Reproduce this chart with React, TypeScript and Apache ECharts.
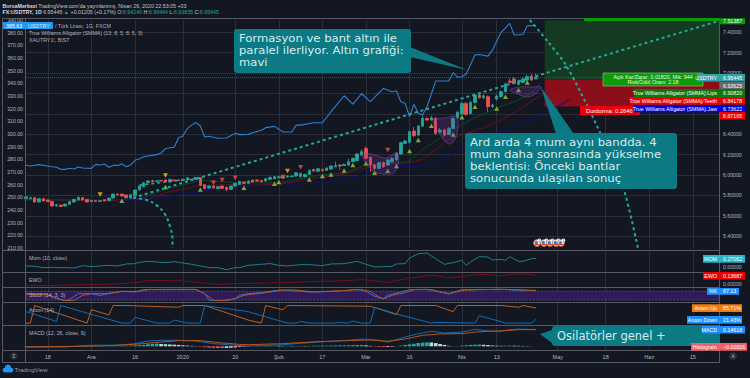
import React, { useEffect, useRef } from "react";
import * as echarts from "echarts";

const BAR_COUNT = 160;
const tickIndex = [5, 15, 25, 36, 48, 58, 68, 78, 88, 100, 108, 122, 133, 143, 153];
const tickLabels = ["18", "Ara", "16", "2020", "20", "Şub", "17", "Mar", "16", "Nis", "13", "May", "18", "Haz", "15"];
const priceTicks = [5.4, 5.6, 5.8, 6.0, 6.2, 6.4, 6.6, 6.8, 7.0, 7.2, 7.4];
const priceLabels = [5.4, 5.6, 5.8, 6.0, 6.2, 6.4, 7.0, 7.2, 7.4];

// open, close, low, high
const candles = [
  [5.767,5.787,5.76,5.79],[5.768,5.777,5.76,5.785],[5.777,5.735,5.73,5.785],[5.735,5.768,5.73,5.775],[5.768,5.745,5.74,5.772],
  [5.755,5.741,5.735,5.76],[5.741,5.696,5.69,5.745],[5.696,5.709,5.69,5.715],[5.705,5.692,5.685,5.71],[5.696,5.715,5.69,5.72],
  [5.712,5.741,5.705,5.745],[5.735,5.761,5.73,5.768],[5.755,5.781,5.75,5.787],[5.777,5.755,5.75,5.785],[5.761,5.735,5.73,5.765],
  [5.738,5.751,5.733,5.755],[5.748,5.741,5.735,5.752],[5.741,5.748,5.737,5.752],[5.758,5.745,5.74,5.762],[5.748,5.774,5.745,5.778],
  [5.774,5.813,5.77,5.818],[5.813,5.804,5.8,5.818],[5.813,5.794,5.79,5.817],[5.804,5.777,5.77,5.808],[5.774,5.807,5.77,5.812],
  [5.8,5.853,5.795,5.858],[5.853,5.892,5.848,5.897],[5.885,5.924,5.88,5.93],[5.924,5.941,5.92,5.95],[5.944,5.934,5.93,5.955],
  [5.937,5.944,5.93,5.95],[5.947,5.941,5.936,5.952],[5.951,5.934,5.93,5.956],[5.931,5.957,5.926,5.962],[5.951,5.944,5.94,5.955],
  [5.951,5.947,5.942,5.955],[5.947,5.957,5.943,5.962],[5.951,5.973,5.946,5.978],[5.951,5.957,5.946,5.962],[5.957,5.973,5.952,5.982],
  [5.973,5.898,5.892,5.98],[5.905,5.866,5.86,5.91],[5.872,5.892,5.866,5.897],[5.892,5.872,5.866,5.9],[5.866,5.885,5.86,5.89],
  [5.892,5.869,5.864,5.898],[5.879,5.859,5.84,5.885],[5.859,5.892,5.855,5.897],[5.892,5.918,5.887,5.924],[5.908,5.937,5.903,5.943],
  [5.931,5.918,5.912,5.937],[5.918,5.941,5.913,5.947],[5.951,5.931,5.926,5.956],[5.951,5.941,5.936,5.956],[5.947,5.934,5.928,5.952],
  [5.941,5.964,5.936,5.97],[5.957,5.977,5.952,5.983],[5.964,5.983,5.958,5.99],[5.973,5.983,5.968,5.988],[5.983,5.97,5.964,5.988],
  [5.98,5.99,5.975,5.995],[5.983,5.99,5.978,5.996],[5.99,6.022,5.985,6.028],[5.983,6.016,5.978,6.022],[5.983,6.006,5.978,6.012],
  [6.006,6.045,6,6.052],[6.055,6.039,6.033,6.062],[6.036,6.062,6.03,6.07],[6.055,6.042,6.036,6.062],[6.045,6.068,6.04,6.075],
  [6.058,6.088,6.052,6.095],[6.081,6.094,6.075,6.13],[6.098,6.088,6.05,6.102],[6.094,6.104,6.088,6.11],[6.098,6.13,6.09,6.16],
  [6.13,6.163,6.125,6.17],[6.14,6.206,6.135,6.215],[6.196,6.228,6.19,6.25],[6.261,6.163,6.155,6.28],[6.173,6.098,6.032,6.18],
  [6.098,6.065,6.05,6.11],[6.065,6.121,6.055,6.13],[6.121,6.081,6.07,6.13],[6.098,6.147,6.09,6.165],[6.13,6.163,6.12,6.172],
  [6.147,6.212,6.14,6.225],[6.206,6.317,6.2,6.325],[6.31,6.333,6.3,6.345],[6.32,6.425,6.31,6.435],[6.431,6.385,6.375,6.47],
  [6.392,6.48,6.38,6.49],[6.48,6.555,6.47,6.58],[6.555,6.539,6.53,6.565],[6.539,6.562,6.53,6.58],[6.555,6.408,6.395,6.57],
  [6.418,6.441,6.41,6.46],[6.441,6.392,6.38,6.455],[6.398,6.457,6.39,6.47],[6.457,6.555,6.45,6.565],[6.562,6.614,6.55,6.63],
  [6.598,6.702,6.59,6.715],[6.702,6.594,6.585,6.715],[6.604,6.712,6.595,6.725],[6.712,6.784,6.7,6.8],[6.784,6.758,6.75,6.8],
  [6.758,6.777,6.745,6.79],[6.768,6.67,6.62,6.78],[6.67,6.686,6.66,6.7],[6.745,6.774,6.73,6.79],[6.768,6.817,6.76,6.83],
  [6.817,6.892,6.81,6.905],[6.921,6.908,6.9,6.945],[6.941,6.898,6.89,6.96],[6.888,6.921,6.88,6.935],[6.908,6.941,6.9,6.96],
  [6.931,6.964,6.92,6.985],[6.97,6.931,6.925,6.99],[6.9424,6.95445,6.93835,6.99464],
];

const goldLine = [
  [0,275.3],[1,274.7],[3,275.8],[6,274.2],[7,273.7],[8,272.1],[9,272.1],[10,272.9],[11,272.4],[12,273.9],[13,273.1],[15,272.9],[16,276],[17,275.5],[18,276.3],[19,273.7],[20,275.2],[21,275.2],[22,276.3],[23,274.2],[24,275.5],[25,279.2],[26,280.5],[27,282.1],[30,283.7],[31,285],[32,288.4],[33,289.2],[34,289.5],[35,297.1],[36,298.4],[37,304.2],[38,307],[39,309],[40,306.3],[41,297.6],[42,298.2],[44,296.6],[46,296.8],[48,300.5],[49,299.5],[51,299.7],[52,301],[54,303],[55,305],[57,306],[59,301.6],[61,301.6],[62,307],[63,307],[66,308.9],[68,308.9],[70,317.6],[73,330.2],[75,323.6],[77,331.8],[79,325.5],[82,336],[84,333.4],[85,334.2],[86,325.5],[87,324.2],[88,313.7],[89,323.4],[90,316.3],[91,315],[92,321.5],[94,341.8],[97,341.8],[98,348.4],[99,344.9],[100,345.2],[101,347.3],[103,362.3],[104,362.8],[106,361.5],[107,366.2],[109,380.2],[111,387.3],[112,378.1],[114,378.6],[115,385.4],[117,385.7],
];
const lipsLine = [[0,5.755],[25,5.755],[27,5.777],[32,5.859],[40,5.947],[48,5.924],[51,5.924],[58,5.924],[67,5.996],[73,6.022],[78,6.098],[85,6.12],[88,6.137],[91,6.251],[94,6.333],[97,6.415],[102,6.545],[109,6.67],[112,6.719],[116,6.8],[118,6.9]];
const teethLine = [[0,5.761],[21,5.748],[28,5.761],[32,5.826],[40,5.898],[48,5.908],[51,5.898],[58,5.908],[67,5.973],[73,6.006],[78,6.072],[82,6.114],[87,6.111],[91,6.153],[97,6.349],[106,6.48],[109,6.54],[113,6.638],[117,6.752],[122,6.85]];
const jawLine = [[21,5.748],[28,5.755],[32,5.787],[40,5.84],[48,5.885],[51,5.892],[58,5.898],[67,5.924],[74,5.973],[80,6.022],[86,6.081],[92,6.088],[97,6.186],[105,6.366],[113,6.49],[119,6.605],[125,6.742]];

const upMarks = [[22,5.748],[32,5.882],[40,5.859],[50,5.875],[57,5.915],[58,5.931],[65,5.957],[68,5.99],[70,6.006],[73,6.045],[75,6.098],[78,6.114],[80,6.023],[83,6.042],[85,6.088],[88,6.235],[90,6.343],[93,6.483],[98,6.398],[100,6.565],[103,6.67],[108,6.653],[110,6.768],[113,6.833],[115,6.908]];
const yellowMarks = [[17,5.81],[32,5.996],[60,6.039]];
const redMarks = [[43,5.924],[45,5.951],[48,5.973],[59,5.98],[63,6.075],[83,6.245]];

const trendLine = [[24.6,5.777],[159,7.511]];
const shortTrend = [[26,5.9],[40,5.973]];
const arcLeft = [[24.6,5.777],[27.7,5.755],[30,5.702],[31.9,5.614],[33,5.5],[33.6,5.369],[33.6,5.284]];
const arcRight = [[115.6,7.5196],[119.8,7.304],[124.1,7.062],[131,6.48],[136.7,5.925],[140.4,5.284]];

const lastPrice = 6.95445;
const targetPrice = 7.51387;
const entryPrice = 6.93625;
const stopPrice = 6.67165;
const positionStart = 119;

const momLine = [[0,.032],[2,.021],[4,-.021],[6,-.011],[7,-.021],[9,-.021],[11,-.032],[13,.042],[15,.01],[16,.021],[19,.053],[21,.032],[23,.095],[25,.106],[26,.148],[28,.18],[30,.159],[32,.138],[34,.169],[36,.127],[38,.085],[40,.032],[42,-.021],[44,-.021],[46,-.085],[48,-.021],[49,-.021],[51,.053],[54,.085],[56,.106],[58,.053],[60,.032],[63,.074],[65,.074],[68,.042],[70,.095],[73,.106],[76,.18],[78,.085],[80,0],[82,.01],[84,.021],[85,.095],[87,.106],[88,.286],[90,.423],[92,.444],[94,.264],[96,.085],[98,.138],[100,.211],[101,.053],[102,.159],[104,.328],[106,.317],[107,.222],[109,.243],[110,.211],[111,.328],[113,.18],[114,.18],[116,.264],[117,.27062]];
const ewoLine = [[0,-.027],[2,-.027],[6,-.033],[9,-.022],[17,-.011],[21,-.005],[25,.016],[28,.049],[32,.049],[36,.044],[40,.016],[44,-.011],[48,0],[51,.005],[59,.016],[66,.033],[74,.049],[77,.066],[80,.044],[83,.016],[86,.066],[90,.109],[93,.137],[95,.12],[97,.093],[100,.115],[104,.153],[107,.142],[109,.126],[111,.148],[113,.159],[116,.148],[117,.13687]];
const stochK = [[0,63.7],[4,63.7],[7,33.8],[9,15.4],[10,24.6],[12,63.7],[15,63.7],[17,52.2],[19,63.7],[22,79.8],[25,75.2],[27,91.3],[32,93.6],[39,93.6],[41,63.7],[42,17.7],[45,15.4],[48,29.2],[49,52.2],[51,63.7],[54,70.6],[58,89],[61,84.4],[65,75.2],[71,79.8],[76,93.6],[78,79.8],[80,45.3],[82,29.2],[83,52.2],[86,75.2],[88,91.3],[92,93.6],[95,75.2],[97,63.7],[100,91.3],[103,91.3],[109,93.6],[113,86.7],[117,87.13]];
const stochD = [[0,59.1],[5,59.1],[7,29.2],[9,15.4],[11,17.7],[13,52.2],[15,63.7],[18,63.7],[20,70.6],[22,79.8],[26,79.8],[28,91.3],[39,91.3],[41,63.7],[43,17.7],[46,15.4],[48,29.2],[50,52.2],[51,56.8],[55,70.6],[59,89],[62,89],[66,75.2],[72,84.4],[77,91.3],[79,79.8],[81,40.7],[82,29.2],[84,52.2],[87,70.6],[89,91.3],[93,91.3],[96,70.6],[97,61.4],[100,86.7],[104,91.3],[109,93.6],[113,91.3],[117,84.4]];
const aroonUp = [[0,0],[1,0],[2,100],[14,0],[15,77],[19,46],[20,100],[23,100],[35,90],[36,100],[41,100],[51,17],[54,0],[55,100],[58,81],[59,77],[60,100],[79,96],[85,48],[86,100],[94,100],[98,65],[99,100],[109,100],[113,90],[114,100],[117,85.71]];
const aroonDown = [[0,65],[7,9.6],[8,100],[22,0],[24,0],[25,32.7],[30,0],[33,0],[34,17],[37,0],[40,0],[41,100],[51,65],[58,13.5],[60,0],[62,0],[63,9.6],[65,0],[71,0],[72,3.8],[74,0],[75,11.5],[77,0],[79,0],[80,90],[85,52],[93,0],[94,3.8],[103,0],[104,42],[109,7.7],[110,0],[116,0],[117,21.43]];
const macdLine = [[0,-.006],[9,-.006],[15,.009],[21,.009],[25,.023],[28,.046],[31,.052],[35,.052],[39,.046],[43,.023],[48,.009],[51,.003],[59,.014],[67,.037],[74,.052],[77,.063],[81,.052],[83,.037],[87,.08],[90,.109],[93,.129],[96,.115],[100,.123],[103,.146],[107,.129],[109,.132],[111,.144],[113,.149],[116,.146],[117,.14618]];
const macdSignal = [[0,-.006],[17,.003],[25,.017],[31,.037],[35,.049],[40,.049],[45,.029],[49,.017],[51,.014],[59,.023],[67,.04],[74,.049],[79,.055],[83,.043],[87,.063],[91,.095],[95,.106],[100,.109],[103,.123],[107,.132],[109,.132],[113,.144],[117,.144]];
const macdHist = [-.004,-.005,-.006,-.006,-.005,-.006,-.005,-.004,-.003,-.002,-.001,.001,.001,.002,.003,.002,.002,.001,.001,.002,.002,.003,.004,.005,.006,.008,.01,.012,.018,.021,.023,.02,.018,.016,.014,.012,.008,.006,.004,.002,-.004,-.008,-.011,-.013,-.015,-.015,-.014,-.012,-.009,-.006,-.004,-.002,.001,.002,.003,.004,.005,.005,.004,.003,.004,.003,.003,.004,.003,.004,.005,.005,.006,.006,.007,.007,.008,.008,.009,.01,.011,.012,.008,.004,-.003,-.006,-.007,-.006,-.004,.002,.006,.012,.017,.022,.028,.032,.034,.033,.028,.02,.012,.004,-.002,.002,.006,.009,.012,.014,.015,.013,.011,.007,.005,.004,.005,.006,.005,.004,.003,.002,.001,-.0002];

const BG = "#131722";
const GRID = "#2a2e39";
const FRAME = "#565963";
const TEXT = "#b2b5be";
const TEAL = "#26a69a";
const RED = "#ef5350";
const CALLOUT = "#0b7a84";
const CALLOUT_TEXT = "#d7ecee";
const SANS = "Liberation Sans";
const FONT = "DejaVu Sans";

const categories = Array.from({ length: BAR_COUNT }, (_, i) => {
  const k = tickIndex.indexOf(i);
  return k >= 0 ? tickLabels[k] : String(i);
});

function txt(text: string, x: number, y: number, size: number, fill: string, extra: any = {}) {
  return {
    type: "text", x, y, z: extra.z ?? 120, silent: true, scaleX: extra.scaleX ?? 1,
    style: { text, fontSize: size, fontFamily: extra.family ?? SANS, fontWeight: extra.weight ?? "normal", fill, align: extra.align ?? "left", verticalAlign: "middle", lineHeight: extra.lineHeight, rich: extra.rich },
  };
}
function box(x: number, y: number, w: number, h: number, fill: string, z = 110, r = 0, stroke?: string) {
  return { type: "rect", z, silent: true, shape: { x, y, width: w, height: h, r }, style: { fill, stroke, lineWidth: stroke ? 0.6 : 0 } };
}
function rule(x1: number, y1: number, x2: number, y2: number) {
  return { type: "line", z: 60, silent: true, shape: { x1, y1, x2, y2 }, style: { stroke: FRAME, lineWidth: 1 } };
}
function tag(x: number, y: number, w: number, h: number, color: string, name: string, value: string, nameRight = 717, valueX = 723) {
  const out: any[] = [box(x, y, w, h, color, 112)];
  if (name) out.push(txt(name, nameRight, y + h / 2, 5.3, "#ffffff", { align: "right", z: 113 }));
  if (value) out.push(txt(value, valueX, y + h / 2, 5.3, "#ffffff", { z: 113 }));
  return out;
}
function flag(x: number, y: number, label: string) {
  return [
    { type: "circle", z: 90, silent: true, shape: { cx: x, cy: y, r: 3.4 }, style: { fill: "#e8edf5", stroke: "#b5651d", lineWidth: 1 } },
    { type: "circle", z: 91, silent: true, shape: { cx: x - 0.6, cy: y - 0.4, r: 1.6 }, style: { fill: "#3f6fc9" } },
    { type: "rect", z: 91, silent: true, shape: { x: x - 2.2, y: y + 0.9, width: 4.6, height: 1.3 }, style: { fill: "#dc3b3b" } },
    { type: "circle", z: 92, silent: true, shape: { cx: x + 2.4, cy: y - 2.6, r: 1.9 }, style: { fill: "#ffffff" } },
    txt(label, x + 2.4, y - 2.5, 3.6, "#222222", { align: "center", z: 93 }),
  ];
}
function bowl(points: number[][]) {
  return { type: "polygon", z: 55, silent: true, shape: { points, smooth: 0.35 }, style: { fill: "rgba(128,60,170,0.24)", stroke: "rgba(150,70,190,0.65)", lineWidth: 0.8 } };
}
function callout(x: number, y: number, w: number, h: number, tail: number[][]) {
  return [
    { type: "polygon", z: 100, silent: true, shape: { points: tail }, style: { fill: CALLOUT } },
    box(x, y, w, h, CALLOUT, 101, 3),
  ];
}

const panes = [
  { top: 20, height: 228 },
  { top: 250, height: 22 },
  { top: 272, height: 15 },
  { top: 287, height: 15 },
  { top: 302, height: 23 },
  { top: 325, height: 25 },
];

function buildOption() {
  const grid = panes.map((p) => ({ left: 26, width: 693, top: p.top, height: p.height, show: false }));
  const xAxis: any[] = panes.map((_, i) => ({
    type: "category", gridIndex: i, data: categories, boundaryGap: false,
    axisLine: { show: false }, axisTick: { show: false },
    splitLine: { show: true, interval: (idx: number) => tickIndex.includes(idx), lineStyle: { color: GRID, width: 1 } },
    axisLabel: i === 5
      ? { show: true, interval: (idx: number) => tickIndex.includes(idx), color: TEXT, fontSize: 5.5, fontFamily: SANS, margin: 3.5 }
      : { show: false },
  }));
  xAxis.push({ type: "value", gridIndex: 0, min: 0, max: 159, show: false, position: "top" });

  const hiddenY = (gridIndex: number, min: number, max: number, labels?: number[]) => ({
    type: "value", gridIndex, min, max, position: "right", scale: true,
    axisLine: { show: false }, axisTick: { show: false, customValues: labels ?? [] }, splitLine: { show: false },
    axisLabel: labels
      ? { show: true, customValues: labels, color: TEXT, fontSize: 5.2, fontFamily: SANS, margin: 4, formatter: (v: number) => v.toFixed(5) }
      : { show: false },
  });
  const yAxis: any[] = [
    { type: "value", gridIndex: 0, min: 210, max: 390, interval: 10, position: "left",
      axisLine: { show: false }, axisTick: { show: false }, splitLine: { show: false },
      axisLabel: { color: TEXT, fontSize: 5.2, fontFamily: SANS, margin: 3, formatter: (v: number) => v.toFixed(2) } },
    { type: "value", gridIndex: 0, min: 5.2843, max: 7.5196, position: "right",
      axisLine: { show: false }, axisTick: { show: false, customValues: priceTicks },
      splitLine: { show: true, lineStyle: { color: GRID, width: 1 } },
      axisLabel: { customValues: priceLabels, color: TEXT, fontSize: 5.2, fontFamily: SANS, margin: 4, formatter: (v: number) => v.toFixed(5) } },
    hiddenY(1, -0.16, 0.54, [0]),
    hiddenY(2, -0.055, 0.19, [0]),
    hiddenY(3, 6.2, 109.7),
    hiddenY(4, -11, 120),
    hiddenY(5, -0.032, 0.184),
  ];

  const line = (data: number[][], color: string, xi: number, yi: number, width = 1, extra: any = {}) => ({
    type: "line", data, xAxisIndex: xi, yAxisIndex: yi, symbol: "none", silent: true,
    lineStyle: { color, width, ...extra.lineStyle }, itemStyle: { color }, z: extra.z ?? 3, smooth: extra.smooth ?? false, ...extra.more,
  });
  const marks = (data: number[][], color: string, rotate: number) => ({
    type: "scatter", data, xAxisIndex: 0, yAxisIndex: 1, symbol: "triangle", symbolSize: [5, 4.5], symbolRotate: rotate,
    itemStyle: { color }, silent: true, z: 6,
  });
  const dashed = { type: [3, 3], cap: "butt" };

  const series: any[] = [
    {
      type: "candlestick", data: candles, xAxisIndex: 0, yAxisIndex: 1, barWidth: 3, z: 5, silent: true,
      itemStyle: { color: TEAL, color0: RED, borderColor: TEAL, borderColor0: RED, borderWidth: 0.8 },
      markArea: {
        silent: true, z: 1,
        data: [
          [{ xAxis: positionStart, yAxis: targetPrice, itemStyle: { color: "#143a22" } }, { xAxis: 159, yAxis: entryPrice }],
          [{ xAxis: positionStart, yAxis: entryPrice, itemStyle: { color: "#8a0f1a" } }, { xAxis: 159, yAxis: stopPrice }],
        ],
      },
    },
    line([[0, lastPrice], [159, lastPrice]], "rgba(38,166,154,0.55)", 0, 1, 1, { lineStyle: { type: [1, 1] }, z: 2 }),
    line(goldLine, "#2f7fd1", 0, 0, 1.1, { z: 4 }),
    line(lipsLine, "#0f4d1e", 0, 1, 0.9, { z: 3 }),
    line(teethLine, "#6d1020", 0, 1, 0.9, { z: 3 }),
    line(jawLine, "#10107c", 0, 1, 0.9, { z: 3 }),
    line(trendLine, TEAL, 6, 1, 2, { lineStyle: dashed, z: 7 }),
    line(shortTrend, TEAL, 6, 1, 1.6, { lineStyle: dashed, z: 7 }),
    line(arcLeft, TEAL, 6, 1, 2, { lineStyle: dashed, smooth: 0.4, z: 7 }),
    line(arcRight, TEAL, 6, 1, 2, { lineStyle: dashed, smooth: 0.3, z: 7 }),
    marks(upMarks, "#9ccc3c", 0),
    marks(yellowMarks, "#f2c40f", 180),
    marks(redMarks, "#ef5350", 180),
    line(momLine, "#1f7f8c", 1, 2, 1),
    line(ewoLine, "#7a0e1c", 2, 3, 1),
    {
      ...line(stochK, "#2f78c8", 3, 4, 1, { z: 4 }),
      markArea: {
        silent: true, z: 1,
        itemStyle: { color: "#2f1a5c", borderColor: "#6a5aa0", borderWidth: 0.6, borderType: "dashed" },
        data: [[{ xAxis: 0, yAxis: 80 }, { xAxis: 159, yAxis: 20 }]],
      },
    },
    line(stochD, "#b5561c", 3, 4, 1, { z: 4 }),
    line(aroonUp, "#c2601a", 4, 5, 1),
    line(aroonDown, "#0f6cb8", 4, 5, 1),
    {
      type: "bar", data: macdHist, xAxisIndex: 5, yAxisIndex: 6, barWidth: 3.6, silent: true, z: 2,
      itemStyle: {
        color: (p: any) => {
          const prev = p.dataIndex > 0 ? macdHist[p.dataIndex - 1] : 0;
          const v = p.value as number;
          if (v >= 0) return v >= prev ? TEAL : "#b2dfdb";
          return v <= prev ? RED : "#ffcdd2";
        },
      },
    },
    line(macdLine, "#0f6cb8", 5, 6, 1, { z: 4 }),
    line(macdSignal, "#b5561c", 5, 6, 1, { z: 4 }),
  ];

  const elements: any[] = [
    // frame
    rule(2, 18.5, 720, 18.5), rule(2.5, 18, 2.5, 362), rule(25.5, 18, 25.5, 362), rule(719.5, 18, 719.5, 362), rule(2, 362.5, 720, 362.5),
    rule(2, 250.5, 720, 250.5), rule(2, 272.5, 720, 272.5), rule(2, 287.5, 720, 287.5), rule(2, 302.5, 720, 302.5), rule(2, 325.5, 720, 325.5), rule(2, 350.5, 720, 350.5),
    // header
    txt("{b|BorsaMerkezi} TradingView.com'da yayınlanmış, Nisan 26, 2020 22:53:05 +03", 2.5, 5.5, 5.3, "#c4c7ce", { rich: { b: { fontWeight: "bold", fontSize: 5.3, fontFamily: SANS, fill: "#d8dae0" } } }),
    txt("{b|FX:USDTRY, 1D} 6.95445 {g|▲} +0.01205 (+0.17%) O:{g|6.94240} H:{g|6.99464} L:{g|6.93835} C:{g|6.95445}", 2.5, 12.2, 5.3, "#c4c7ce", {
      rich: { b: { fontWeight: "bold", fontSize: 5.3, fontFamily: SANS, fill: "#d8dae0" }, g: { fontSize: 5.3, fontFamily: SANS, fill: "#26a69a" } },
    }),
    // pane legends
    box(3, 22, 50, 7, "#2196f3", 75),
    txt("385.63", 6, 25.5, 5.3, "#ffffff", { z: 76 }),
    txt("USDTRY", 28, 25.5, 5.3, "#dceeff", { z: 76 }),
    txt("/ Türk Lirası, 1G, FXCM", 55, 25.5, 5.3, TEXT, { z: 70 }),
    txt("True Williams Alligator (SMMA) (13, 8, 5, 8, 5, 3)", 29, 32.7, 5.3, TEXT, { z: 70 }),
    txt("XAUTRY1!, BIST", 29, 39.7, 5.3, TEXT, { z: 70 }),
    txt("Mom (10, close)", 29, 258, 5.3, TEXT, { z: 70 }),
    txt("EWO", 29, 279.5, 5.3, TEXT, { z: 70 }),
    txt("Stoch (14, 3, 3)", 29, 294.5, 5.3, TEXT, { z: 70 }),
    txt("Aroon (14)", 29, 310, 5.3, TEXT, { z: 70 }),
    txt("MACD (12, 26, close, 9)", 29, 333, 5.3, TEXT, { z: 70 }),
    // bowls
    bowl([[362, 154], [372, 170], [383, 174], [395, 172], [398, 153], [385, 158], [375, 155]]),
    bowl([[433, 120], [440, 134], [449, 144], [456, 137], [457, 117], [445, 118]]),
    bowl([[510, 90], [520, 95], [528, 97], [535, 94], [541, 87], [533, 87], [520, 87]]),
    // earnings flags
    ...flag(537, 243, "2"),
    ...flag(544, 243, "4"),
    ...flag(550, 243, "5"),
    ...flag(556, 243, "6"),
    ...flag(561, 243, "1"),
    // callouts
    ...callout(234, 29, 177, 44, [[410, 47], [467, 70], [410, 57]]),
    txt("Formasyon ve bant altın ile\nparalel ilerliyor. Altın grafiği:\nmavi", 239, 50.5, 10.2, CALLOUT_TEXT, { family: FONT, lineHeight: 12, z: 105, scaleX: 1.14 }),
    ...callout(465, 133, 212, 56, [[541, 87], [574, 134], [556, 134]]),
    txt("Ard arda 4 mum aynı bandda. 4\nmum daha sonrasında yükselme\nbeklentisi: Önceki bantlar\nsonucunda ulaşılan sonuç", 470, 161, 10.2, CALLOUT_TEXT, { family: FONT, lineHeight: 12, z: 105, scaleX: 1.15 }),
    ...callout(552, 326, 167, 20, [[552, 330], [540, 334], [552, 343]]),
    txt("Osilatörler genel +", 557, 335.5, 11.5, CALLOUT_TEXT, { family: FONT, z: 105 }),
    // position
    box(584, 18, 135, 3, "#079a0a", 70),
    box(580, 106, 60, 9, "#e8000f", 108),
    txt("Durdurma: 0.2646", 586, 110.5, 5.8, "#ffffff", { z: 109 }),
    box(603, 73, 100, 13, "#0a9a0a", 108, 0, "#8fd28f"),
    txt("Açık Kar/Zarar: 0.01820, Mik: 944\nRisk/Ödül Oranı: 2.18", 653, 79.5, 5.3, "#e8ffe8", { align: "center", lineHeight: 5.6, z: 109 }),
    // price tags
    ...tag(720, 18.3, 25, 6, "#079a0a", "", "7.51387"),
    ...tag(697, 74, 48, 7.4, "#2fa3a8", "USDTRY", "6.95445"),
    ...tag(720, 82, 25, 7, "#666a70", "", "6.93625"),
    ...tag(634, 89, 111, 8, "#0a7a0a", "True Williams Alligator (SMMA):Lips", "6.90820"),
    ...tag(630, 97, 115, 7.6, "#ee0000", "True Williams Alligator (SMMA):Teeth", "6.84178"),
    ...tag(634, 105, 111, 7.2, "#0000e6", "True Williams Alligator (SMMA):Jaw", "6.73622"),
    ...tag(720, 112, 25, 7.4, "#ee0000", "", "6.67165"),
    // pane tags
    ...tag(703, 255, 42, 7.8, "#26b5c8", "MOM", "0.27062"),
    ...tag(703, 272, 42, 7.4, "#ee0000", "EWO", "0.13687"),
    ...tag(707, 288, 32, 6.8, "#1e8fff", "%K", "87.13"),
    ...tag(692, 304.3, 50, 7.7, "#f47a0c", "Aroon Up", "85.71%"),
    ...tag(687, 316, 55, 7.7, "#1e8fff", "Aroon Down", "21.43%"),
    ...tag(702, 326, 43, 7.4, "#1e8fff", "MACD", "0.14618"),
    ...tag(691, 343, 56, 7.7, "#ef5f66", "Histogram", "−0.00016"),
    // misc
    { type: "circle", z: 80, silent: true, shape: { cx: 14, cy: 356, r: 3.6 }, style: { fill: "#2a2e39" } },
    txt("Σ", 14, 356, 4.5, TEXT, { align: "center", z: 81 }),
    { type: "circle", z: 80, silent: true, shape: { cx: 733, cy: 356, r: 4 }, style: { fill: "#2a2e39" } },
    txt("A", 733, 356, 4.5, TEXT, { align: "center", z: 81 }),
    // logo
    { type: "circle", z: 80, silent: true, shape: { cx: 8, cy: 367.5, r: 3 }, style: { fill: "#2196f3" } },
    { type: "circle", z: 80, silent: true, shape: { cx: 5, cy: 370, r: 2.3 }, style: { fill: "#2196f3" } },
    { type: "circle", z: 80, silent: true, shape: { cx: 11, cy: 370, r: 2.3 }, style: { fill: "#2196f3" } },
    box(4, 370, 8, 2.3, "#2196f3", 80),
    txt("TradingView", 14.5, 370, 6, "#9a9da6", { z: 81 }),
  ];

  return { animation: false, backgroundColor: BG, grid, xAxis, yAxis, series, graphic: { elements } };
}

export default function App() {
  const ref = useRef<HTMLDivElement>(null);
  useEffect(() => {
    document.body.style.margin = "0";
    document.body.style.background = BG;
    const chart = echarts.init(ref.current as HTMLDivElement, undefined, { renderer: "svg", width: 750, height: 378 });
    chart.setOption(buildOption() as any);
    return () => chart.dispose();
  }, []);
  return <div ref={ref} style={{ width: 750, height: 378, position: "absolute", left: 0, top: 0 }} />;
}
